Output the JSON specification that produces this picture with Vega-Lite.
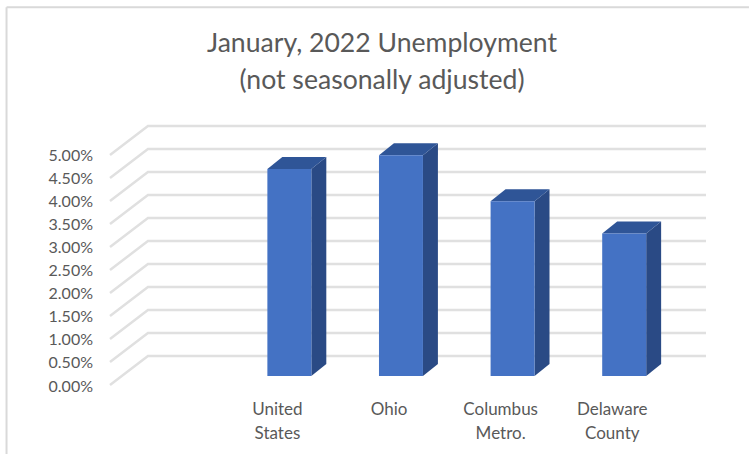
{
  "$schema": "https://vega.github.io/schema/vega-lite/v6.json",
  "width": 596,
  "height": 260,
  "autosize": "none",
  "padding": {"left": 110, "top": 125, "right": 43, "bottom": 69},
  "background": "white",
  "title": {
    "text": ["January, 2022 Unemployment", "(not seasonally adjusted)"],
    "fontSize": 26.6,
    "font": "Lato",
    "fontWeight": "normal",
    "color": "#595959",
    "lineHeight": 37,
    "anchor": "middle",
    "dx": -26,
    "offset": -88
  },
  "datasets": {
    "rates": [
      {"name": "United States", "slot": 1, "rate": 0.045},
      {"name": "Ohio", "slot": 2, "rate": 0.048},
      {"name": "Columbus Metro.", "slot": 3, "rate": 0.038},
      {"name": "Delaware County", "slot": 4, "rate": 0.031}
    ],
    "ticks": [
      {"tick": 0}, {"tick": 0.005}, {"tick": 0.01}, {"tick": 0.015}, {"tick": 0.02}, {"tick": 0.025},
      {"tick": 0.03}, {"tick": 0.035}, {"tick": 0.04}, {"tick": 0.045}, {"tick": 0.05}
    ]
  },
  "layer": [
    {
      "description": "Wall and floor gridlines: front edge, back corner, far end",
      "data": {"name": "ticks"},
      "transform": [
        {"calculate": "[0,1,2]", "as": "step"},
        {"flatten": ["step"]},
        {"calculate": "[-0.5,-0.16,4.84][datum.step]", "as": "gx"},
        {"calculate": "datum.tick + (datum.step > 0 ? 0.0063 : 0)", "as": "gy"}
      ],
      "mark": {"type": "line", "color": "#e0e0e0", "strokeWidth": 2.5, "clip": false},
      "encoding": {
        "x": {"field": "gx", "type": "quantitative", "scale": {"domain": [-0.5, 4.84], "nice": false, "zero": false}, "axis": null},
        "y": {"field": "gy", "type": "quantitative", "scale": {"domain": [0, 0.05652], "nice": false, "zero": false}, "axis": null},
        "detail": {"field": "tick"},
        "order": {"field": "step"}
      }
    },
    {
      "description": "Right-hand face of each column",
      "data": {"name": "rates"},
      "transform": [
        {"calculate": "[0,1]", "as": "edge"},
        {"flatten": ["edge"]},
        {"calculate": "datum.slot + 0.304 + datum.edge * 0.134", "as": "sx"},
        {"calculate": "0.00196 + datum.edge * 0.0026", "as": "sy"},
        {"calculate": "0.00196 + datum.rate + datum.edge * 0.0026", "as": "sy2"}
      ],
      "mark": {"type": "area", "color": "#2a4a85", "clip": false},
      "encoding": {
        "x": {"field": "sx", "type": "quantitative", "axis": null},
        "y": {"field": "sy", "type": "quantitative", "axis": null},
        "y2": {"field": "sy2"},
        "detail": {"field": "name"}
      }
    },
    {
      "description": "Top face of each column",
      "data": {"name": "rates"},
      "transform": [
        {"calculate": "[0,1,2,3]", "as": "step"},
        {"flatten": ["step"]},
        {"calculate": "datum.slot - 0.09 + [0, 0.134, 0.394, 0.528][datum.step]", "as": "tx"},
        {"calculate": "0.00196 + datum.rate + [0, 0, 0, 0.0026][datum.step]", "as": "ty"},
        {"calculate": "0.00196 + datum.rate + [0, 0.0026, 0.0026, 0.0026][datum.step]", "as": "ty2"}
      ],
      "mark": {"type": "area", "color": "#2f5597", "clip": false},
      "encoding": {
        "x": {"field": "tx", "type": "quantitative", "axis": null},
        "y": {"field": "ty", "type": "quantitative", "axis": null},
        "y2": {"field": "ty2"},
        "detail": {"field": "name"}
      }
    },
    {
      "description": "Front face of each column",
      "data": {"name": "rates"},
      "transform": [
        {"calculate": "datum.slot - 0.09", "as": "fx"},
        {"calculate": "datum.slot + 0.304", "as": "fx2"},
        {"calculate": "0.00196", "as": "fy"},
        {"calculate": "0.00196 + datum.rate", "as": "fy2"}
      ],
      "mark": {"type": "rect", "color": "#4472c4", "clip": false},
      "encoding": {
        "x": {"field": "fx", "type": "quantitative", "axis": null},
        "x2": {"field": "fx2"},
        "y": {"field": "fy", "type": "quantitative", "axis": null},
        "y2": {"field": "fy2"}
      }
    },
    {
      "description": "Category names, broken onto two lines at the space",
      "data": {"name": "rates"},
      "mark": {
        "type": "text", "font": "Lato", "fontSize": 17, "color": "#595959",
        "align": "center", "baseline": "top", "lineBreak": " ", "lineHeight": 24, "dy": 16.5
      },
      "encoding": {
        "x": {"field": "slot", "type": "quantitative", "axis": null},
        "y": {"datum": 0, "type": "quantitative", "axis": null},
        "text": {"field": "name"}
      }
    },
    {
      "description": "Percentage labels on the front plane",
      "data": {"name": "ticks"},
      "mark": {
        "type": "text", "font": "Lato", "fontSize": 16, "color": "#595959",
        "align": "right", "baseline": "middle", "dx": -17, "dy": 1.5
      },
      "encoding": {
        "x": {"datum": -0.5, "type": "quantitative", "axis": null},
        "y": {"field": "tick", "type": "quantitative", "axis": null},
        "text": {"field": "tick", "type": "quantitative", "format": ".2%"}
      }
    },
    {
      "description": "Chart frame, left edge",
      "data": {"values": [{}]},
      "mark": {"type": "rule", "color": "#d9d9d9", "strokeWidth": 2, "clip": false},
      "encoding": {
        "x": {"datum": -1.427, "type": "quantitative", "axis": null},
        "y": {"datum": -0.015, "type": "quantitative", "axis": null},
        "y2": {"datum": 0.0821}
      }
    },
    {
      "description": "Chart frame, top edge",
      "data": {"values": [{}]},
      "mark": {"type": "rule", "color": "#d9d9d9", "strokeWidth": 2, "clip": false},
      "encoding": {
        "x": {"datum": -1.427, "type": "quantitative", "axis": null},
        "x2": {"datum": 5.225},
        "y": {"datum": 0.0821, "type": "quantitative", "axis": null}
      }
    }
  ],
  "config": {"view": {"stroke": null}}
}
